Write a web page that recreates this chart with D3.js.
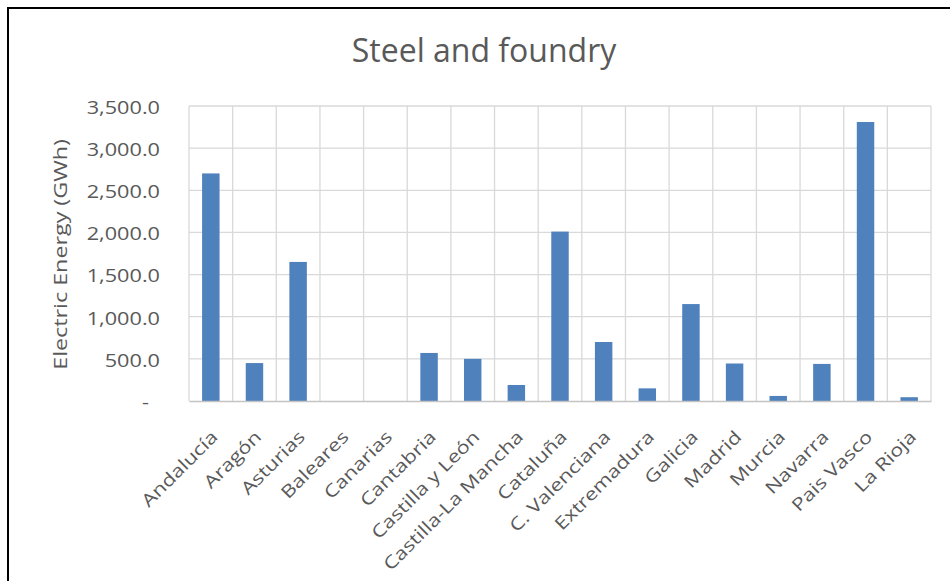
<!DOCTYPE html>
<html>
<head>
<meta charset="utf-8">
<script src="https://cdn.jsdelivr.net/npm/d3@7"></script>
<style>
  html, body { margin: 0; padding: 0; background: #ffffff; }
  svg { display: block; }
  text { font-family: "Open Sans", "Noto Sans", sans-serif; fill: #595959; }
</style>
</head>
<body>
<svg id="chart" width="950" height="581"></svg>
<script>
// Electricity consumption of the steel and foundry sector by region (GWh)
const categories = [
  "Andalucía", "Aragón", "Asturias", "Baleares", "Canarias", "Cantabria",
  "Castilla y León", "Castilla-La Mancha", "Cataluña", "C. Valenciana",
  "Extremadura", "Galicia", "Madrid", "Murcia", "Navarra", "Pais Vasco", "La Rioja"
];
const energyGWh = [
  2700, 450, 1650, 0, 0, 570,
  500, 190, 2010, 700,
  150, 1150, 445, 60, 440, 3310, 45
];
const yTickValues = [0, 500, 1000, 1500, 2000, 2500, 3000, 3500];
const titleText = "Steel and foundry";
const yAxisTitle = "Electric Energy (GWh)";

const svg = d3.select("#chart");
const W = 950, H = 581;
const plot = { left: 189, right: 931, top: 106, bottom: 401 };
const textStretch = 1.24;   // wide axis lettering
const axisFont = 17.5;

// Outer chart frame (extends past the right and bottom edges)
svg.append("rect")
  .attr("x", 8).attr("y", 8)
  .attr("width", W + 20).attr("height", H + 20)
  .attr("fill", "#ffffff")
  .attr("stroke", "#000000")
  .attr("stroke-width", 2);

const x = d3.scaleBand()
  .domain(categories)
  .range([plot.left, plot.right])
  .paddingInner(0.6)
  .paddingOuter(0.3);

const y = d3.scaleLinear()
  .domain([0, 3500])
  .range([plot.bottom, plot.top]);

const step = x.step();

// Horizontal gridlines
svg.append("g")
  .selectAll("line")
  .data(yTickValues.filter(v => v > 0))
  .join("line")
  .attr("x1", plot.left).attr("x2", plot.right)
  .attr("y1", d => y(d)).attr("y2", d => y(d))
  .attr("stroke", "#d9d9d9").attr("stroke-width", 1.3);

// Vertical gridlines at category boundaries
const boundaries = categories.map(c => x(c) - step * 0.3)
  .concat([x(categories[categories.length - 1]) - step * 0.3 + step]);
svg.append("g")
  .selectAll("line")
  .data(boundaries)
  .join("line")
  .attr("x1", d => d).attr("x2", d => d)
  .attr("y1", plot.top).attr("y2", plot.bottom)
  .attr("stroke", "#d9d9d9").attr("stroke-width", 1.3);

// Bars
svg.append("g")
  .selectAll("rect")
  .data(categories.map((c, i) => ({ c, v: energyGWh[i] })))
  .join("rect")
  .attr("x", d => x(d.c))
  .attr("width", x.bandwidth())
  .attr("y", d => y(d.v))
  .attr("height", d => y(0) - y(d.v))
  .attr("fill", "#4f81bd");

// Category axis
const xAxis = svg.append("g")
  .attr("transform", `translate(0,${plot.bottom})`)
  .call(d3.axisBottom(x).tickSize(0).tickPadding(0));
xAxis.select(".domain")
  .attr("stroke", "#c4c4c4").attr("stroke-width", 1.5);
xAxis.selectAll("text")
  .attr("y", 0).attr("dy", null)
  .attr("text-anchor", "end")
  .attr("transform", `translate(8,37) rotate(-45) scale(${textStretch},1)`)
  .style("font-size", axisFont + "px")
  .style("fill", "#595959");

// Value axis
const fmt = d3.format(",.1f");
const yAxis = svg.append("g")
  .attr("transform", `translate(${plot.left},0)`)
  .call(d3.axisLeft(y).tickValues(yTickValues).tickSize(0)
    .tickFormat(v => v === 0 ? "-" : fmt(v)));
yAxis.select(".domain").remove();
yAxis.selectAll("text")
  .attr("x", 0)
  .attr("dy", "0.42em")
  .attr("text-anchor", "end")
  .attr("transform", v => `translate(${v === 0 ? -40 : -29},0) scale(${textStretch},1)`)
  .style("font-size", axisFont + "px")
  .style("fill", "#595959");

// Value axis title
svg.append("text")
  .attr("transform", `translate(67,${(plot.top + plot.bottom) / 2 + 1}) rotate(-90) scale(${textStretch},1)`)
  .attr("text-anchor", "middle")
  .style("font-size", "18.8px")
  .text(yAxisTitle);

// Chart title
svg.append("text")
  .attr("x", 484).attr("y", 62)
  .attr("text-anchor", "middle")
  .style("font-size", "32px")
  .text(titleText);
</script>
</body>
</html>
